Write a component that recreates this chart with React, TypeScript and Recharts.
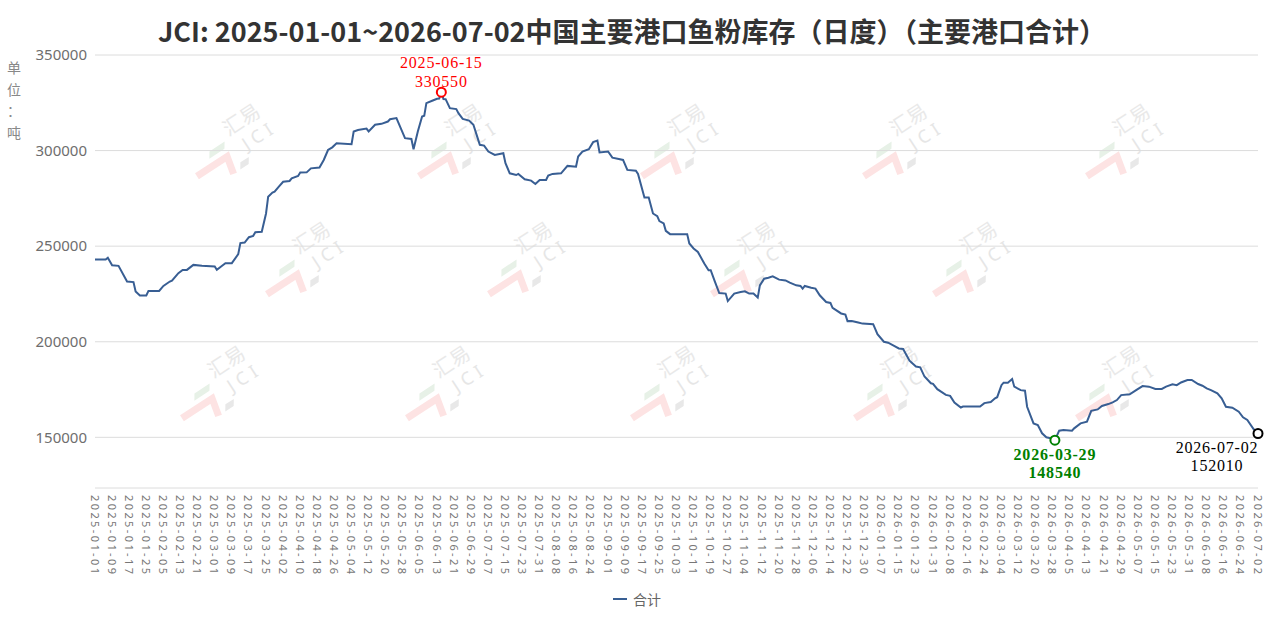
import React from 'react';
import { LineChart, Line, XAxis, YAxis, CartesianGrid } from 'recharts';

// ---------- data ----------
const TITLE = 'JCI: 2025-01-01~2026-07-02中国主要港口鱼粉库存（日度）（主要港口合计）';
const SERIES_NAME = '合计';
const Y_UNIT = ['单', '位', '：', '吨'];
const Y_TICKS = [150000, 200000, 250000, 300000, 350000];
const SKIPPED_DATES = ['2025-01-29', '2025-01-30', '2025-01-31'];

const OBS_DATES = [
  '2025-01-01','2025-01-06','2025-01-07','2025-01-09','2025-01-12','2025-01-16','2025-01-19','2025-01-20','2025-01-22','2025-01-25',
  '2025-01-26','2025-02-03','2025-02-05','2025-02-08','2025-02-09','2025-02-12','2025-02-14','2025-02-16','2025-02-19','2025-02-23',
  '2025-03-01','2025-03-02','2025-03-04','2025-03-06','2025-03-09','2025-03-12','2025-03-13','2025-03-15','2025-03-17','2025-03-19',
  '2025-03-20','2025-03-23','2025-03-25','2025-03-26','2025-03-28','2025-03-29','2025-03-31','2025-04-02','2025-04-05','2025-04-06',
  '2025-04-09','2025-04-10','2025-04-13','2025-04-15','2025-04-19','2025-04-21','2025-04-23','2025-04-25','2025-04-27','2025-05-04',
  '2025-05-05','2025-05-07','2025-05-11','2025-05-12','2025-05-15','2025-05-18','2025-05-21','2025-05-22','2025-05-25','2025-05-29',
  '2025-06-01','2025-06-02','2025-06-04','2025-06-06','2025-06-07','2025-06-08','2025-06-11','2025-06-13','2025-06-14','2025-06-15',
  '2025-06-16','2025-06-17','2025-06-19','2025-06-22','2025-06-23','2025-06-25','2025-06-28','2025-06-30','2025-07-02','2025-07-03',
  '2025-07-05','2025-07-07','2025-07-10','2025-07-14','2025-07-15','2025-07-17','2025-07-20','2025-07-21','2025-07-24','2025-07-27',
  '2025-07-29','2025-07-31','2025-08-03','2025-08-04','2025-08-06','2025-08-10','2025-08-13','2025-08-17','2025-08-18','2025-08-20',
  '2025-08-23','2025-08-25','2025-08-27','2025-08-28','2025-09-01','2025-09-03','2025-09-06','2025-09-08','2025-09-10','2025-09-14',
  '2025-09-15','2025-09-18','2025-09-20','2025-09-22','2025-09-24','2025-09-25','2025-09-27','2025-09-28','2025-09-30','2025-10-08',
  '2025-10-09','2025-10-11','2025-10-13','2025-10-16','2025-10-18','2025-10-19','2025-10-21','2025-10-23','2025-10-26','2025-10-27',
  '2025-10-30','2025-11-02','2025-11-04','2025-11-06','2025-11-08','2025-11-10','2025-11-11','2025-11-13','2025-11-15','2025-11-17',
  '2025-11-20','2025-11-23','2025-11-25','2025-11-28','2025-11-30','2025-12-01','2025-12-02','2025-12-05','2025-12-07','2025-12-09',
  '2025-12-12','2025-12-14','2025-12-15','2025-12-19','2025-12-21','2025-12-22','2025-12-24','2025-12-27','2025-12-29','2026-01-03',
  '2026-01-05','2026-01-08','2026-01-10','2026-01-13','2026-01-15','2026-01-17','2026-01-20','2026-01-23','2026-01-25','2026-01-27',
  '2026-01-30','2026-01-31','2026-02-02','2026-02-06','2026-02-08','2026-02-10','2026-02-13','2026-02-14','2026-02-22','2026-02-24',
  '2026-02-27','2026-03-01','2026-03-02','2026-03-04','2026-03-05','2026-03-07','2026-03-09','2026-03-10','2026-03-13','2026-03-15',
  '2026-03-16','2026-03-19','2026-03-21','2026-03-23','2026-03-25','2026-03-27','2026-03-29','2026-03-31','2026-04-02','2026-04-06',
  '2026-04-07','2026-04-10','2026-04-13','2026-04-15','2026-04-18','2026-04-20','2026-04-23','2026-04-25','2026-04-27','2026-04-29',
  '2026-05-03','2026-05-06','2026-05-09','2026-05-12','2026-05-15','2026-05-18','2026-05-20','2026-05-23','2026-05-25','2026-05-27',
  '2026-05-30','2026-06-01','2026-06-04','2026-06-06','2026-06-08','2026-06-10','2026-06-13','2026-06-15','2026-06-17','2026-06-20',
  '2026-06-23','2026-06-25','2026-06-27','2026-06-30','2026-07-02',
];

const OBS_VALUES = [
  243000,243000,243900,240000,239700,231500,231200,226300,224200,224200,
  226600,226600,229200,231500,232000,235900,237600,237600,240200,239700,
  239400,237600,239400,241100,241100,245800,251600,251900,254700,255400,
  257300,257500,267100,275900,278000,278500,281100,283700,284100,285500,
  286700,288500,288600,290700,291100,295100,300300,301700,303800,303300,
  310000,310800,311500,310000,313500,314000,315200,316400,317000,306500,
  306100,300700,310000,317800,318200,324800,326200,327100,327200,330550,
  327000,326900,322200,321700,319600,316600,315700,313500,306500,303000,
  302600,299500,297700,298600,293400,288100,287200,287800,285000,284300,
  282500,284600,284600,286900,287800,288100,292000,291600,296900,299500,
  300700,304400,305200,299000,299500,296300,295600,295100,289900,289500,
  287800,275500,275500,267100,265700,263100,261900,258000,256300,256300,
  251400,248800,247000,240900,237400,237400,231300,225500,225200,221300,
  225200,226000,226400,225200,225200,223100,229500,233000,233500,234200,
  232500,232100,230900,229500,229200,227800,229200,228300,227800,224300,
  220800,220300,217700,214800,214200,210800,210900,210100,209500,209200,
  204000,200000,199500,197700,196500,196200,190100,187000,186600,181800,
  178300,178000,175200,172200,171700,168200,165600,166100,166100,167900,
  168500,170400,171000,177300,178600,178600,180500,176500,174700,174400,
  166000,157300,156400,152100,150000,149500,148540,153500,153800,153500,
  154700,157300,158200,163900,164600,166400,167400,168300,169500,172100,
  172500,174700,176800,176500,175300,175300,176500,177700,177300,178700,
  180000,180000,177900,177000,175600,174700,173000,170400,166000,165500,
  163400,160500,159100,154200,152010,
];

const MAX_DATE = '2025-06-15';
const MIN_DATE = '2026-03-29';
const LAST_DATE = '2026-07-02';
const START = [2025, 0, 1];
const END = [2026, 6, 2];

function buildDates(): string[] {
  const out: string[] = [];
  const d = new Date(Date.UTC(START[0], START[1], START[2]));
  const end = Date.UTC(END[0], END[1], END[2]);
  while (d.getTime() <= end) {
    const s = d.toISOString().slice(0, 10);
    if (!SKIPPED_DATES.includes(s)) out.push(s);
    d.setUTCDate(d.getUTCDate() + 1);
  }
  return out;
}

const valueByDate = new Map<string, number>();
OBS_DATES.forEach((d, i) => valueByDate.set(d, OBS_VALUES[i]));
const DATES = buildDates();
const rows = DATES.map((d) => ({ date: d, value: valueByDate.has(d) ? valueByDate.get(d)! : null }));

// ---------- styles ----------
const W = 1276;
const H = 623;
const LINE_COLOR = '#385e93';
const SERIF = '"Liberation Serif", "Times New Roman", serif';
const SANS = '"Noto Sans", "Noto Sans CJK SC", sans-serif';

const MARK_STYLE: Record<string, { color: string; bold: boolean; pos: 'above' | 'below' | 'belowLeft' }> = {
  [MAX_DATE]: { color: '#ff0000', bold: false, pos: 'above' },
  [MIN_DATE]: { color: '#008000', bold: true, pos: 'below' },
  [LAST_DATE]: { color: '#000000', bold: false, pos: 'belowLeft' },
};

const renderDot = (props: any) => {
  const { cx, cy, payload, index } = props;
  const key = `dot-${index}`;
  if (cx == null || cy == null || !payload) return <g key={key} />;
  const st = MARK_STYLE[payload.date];
  if (!st) return <g key={key} />;
  let l1y = cy - 24;
  let tx = cx;
  if (st.pos === 'below') { l1y = cy + 19.5; }
  if (st.pos === 'belowLeft') { l1y = cy + 19.5; tx = cx - 41; }
  const common = {
    textAnchor: 'middle' as const,
    fill: st.color,
    fontFamily: SERIF,
    fontSize: 16,
    letterSpacing: 0.8,
    fontWeight: st.bold ? 700 : 400,
  };
  return (
    <g key={key}>
      <circle cx={cx} cy={cy} r={4.5} fill="#fff" stroke={st.color} strokeWidth={2} />
      <text x={tx} y={l1y} {...common}>{payload.date}</text>
      <text x={tx} y={l1y + 18.5} {...common}>{payload.value}</text>
    </g>
  );
};

const XTick = (props: any) => {
  const { x, y, payload } = props;
  const ty = y - 1;
  return (
    <text
      x={x}
      y={ty}
      transform={`rotate(90, ${x}, ${ty})`}
      textAnchor="start"
      dominantBaseline="central"
      fontSize={11}
      letterSpacing={2.4}
      fill="#777"
      fontFamily={SANS}
    >
      {payload.value}
    </text>
  );
};

const WATERMARKS = [
  [230, 150], [452, 150], [675, 150], [897, 150], [1120, 150],
  [300, 268], [522, 268], [745, 268], [967, 268],
  [215, 392], [440, 392], [665, 392], [888, 392], [1110, 392],
];

const Watermark = ({ x, y }: { x: number; y: number }) => (
  <g transform={`translate(${x}, ${y}) rotate(-33)`}>
    <text x={6} y={-12} fontSize={20} fill="#e9e9e9" fontFamily='"Noto Sans CJK SC", sans-serif'>汇易</text>
    <text x={14} y={10} fontSize={18} fill="#e6e6e6" fontFamily={SANS} letterSpacing={5}>JCI</text>
    <path d="M -42 4 L -6 4 L -10 22" fill="none" stroke="#fde3e3" strokeWidth={7} />
    <path d="M -18 -10 L 0 -10 L -4 -4 L -22 -4 Z" fill="#e7f1e7" />
    <path d="M 2 16 L 12 16 L 8 22 L -2 22 Z" fill="#e8e8e8" />
  </g>
);

export default function App() {
  return (
    <div style={{ position: 'absolute', left: 0, top: 0, width: W, height: H, background: '#fff', overflow: 'hidden' }}>
      <svg width={W} height={H} style={{ position: 'absolute', left: 0, top: 0 }}>
        {WATERMARKS.map(([x, y], i) => <Watermark key={i} x={x} y={y} />)}
        <text x={632} y={42} textAnchor="middle" fontSize={27} fontWeight={700} fill="#333" fontFamily='"Noto Sans CJK SC", sans-serif'>
          {TITLE}
        </text>
        {Y_UNIT.map((c, i) => (
          <text key={i} x={14} y={67 + i * 21.5} textAnchor="middle" dominantBaseline="central" fontSize={14} fill="#888" fontFamily='"Noto Sans CJK SC", sans-serif'>
            {c}
          </text>
        ))}
      </svg>
      <div style={{ position: 'absolute', left: 0, top: 0 }}>
        <LineChart width={W} height={H} data={rows} margin={{ top: 55, right: 18, bottom: 0, left: 0 }}>
          <CartesianGrid horizontal vertical={false} stroke="#dcdcdc" />
          <XAxis
            xAxisId="band"
            dataKey="date"
            interval={0}
            tick={false}
            tickSize={4}
            tickLine={{ stroke: '#cfcfcf' }}
            axisLine={{ stroke: '#c8c8c8' }}
            height={0}
          />
          <XAxis
            xAxisId="main"
            dataKey="date"
            interval={7}
            tick={<XTick />}
            tickLine={false}
            axisLine={false}
            height={135}
          />
          <YAxis
            domain={[123500, 350000]}
            ticks={Y_TICKS}
            width={95}
            tickLine={false}
            axisLine={false}
            tick={{ fontSize: 15, fill: '#6e6e6e', fontFamily: SANS }}
            interval={0}
          />
          <Line
            xAxisId="main"
            type="linear"
            dataKey="value"
            name={SERIES_NAME}
            stroke={LINE_COLOR}
            strokeWidth={2}
            connectNulls
            dot={renderDot}
            activeDot={false}
            isAnimationActive={false}
          />
        </LineChart>
      </div>
      <div style={{ position: 'absolute', left: 613, top: 589, display: 'flex', alignItems: 'center', fontFamily: '"Noto Sans CJK SC", sans-serif', fontSize: 14, color: '#666' }}>
        <span style={{ display: 'inline-block', width: 14, height: 2, background: LINE_COLOR, marginRight: 6 }} />
        <span>{SERIES_NAME}</span>
      </div>
    </div>
  );
}
